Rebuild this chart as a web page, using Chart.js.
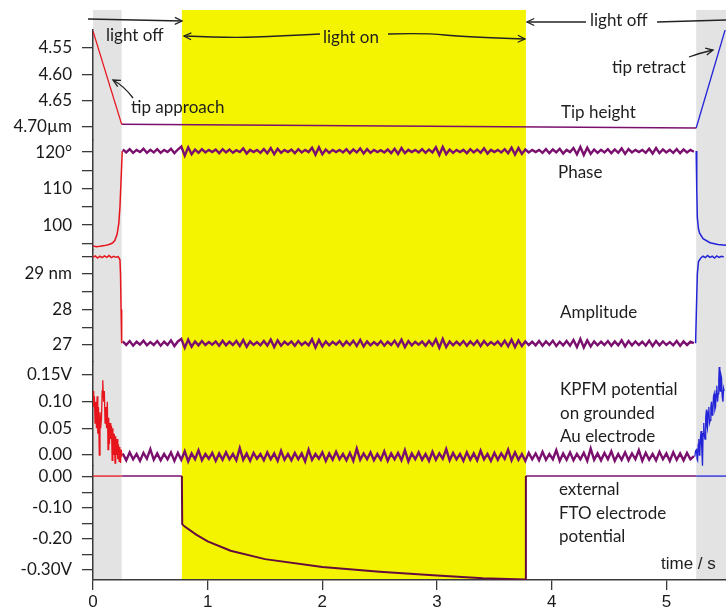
<!DOCTYPE html>
<html>
<head>
<meta charset="utf-8">
<script src="https://cdn.jsdelivr.net/npm/chart.js@4.4.1/dist/chart.umd.min.js"></script>
<style>
  html, body { margin: 0; padding: 0; background: #fff; }
  canvas { display: block; }
</style>
</head>
<body>
<canvas id="chart" width="726" height="611"></canvas>
<script>
// time bands (s)
const grayBands = [[0, 0.25], [5.26, 5.52]];
const lightOn = [0.775, 3.775];
const xTicks = [0, 1, 2, 3, 4, 5];

// sample times of the purple traces
const noiseT0 = 0.26;
const noiseDt = 0.03;

// tip height (µm)
const tipTicks = [4.55, 4.60, 4.65, 4.70];
const tipLabels = ['4.55', '4.60', '4.65', '4.70µm'];
const tipStartT = [0, 0.25];
const tipStartV = [4.518, 4.695];
const tipHoldT = [0.25, 5.26];
const tipHoldV = [4.695, 4.702];
const tipEndT = [5.26, 5.52];
const tipEndV = [4.702, 4.51];

// phase (deg)
const phaseTicks = [120, 115, 110, 105, 100, 95];
const phaseLabels = ['120°', '', '110', '', '100', ''];
const phaseStartT = [0, 0.03, 0.06, 0.10, 0.14, 0.17, 0.19, 0.21, 0.225, 0.235, 0.245, 0.255];
const phaseStartV = [94.3, 94.1, 94.2, 94.4, 94.7, 95.1, 95.8, 97.5, 100.5, 105, 112.5, 120.3];
const phaseEndT = [5.26, 5.265, 5.27, 5.28, 5.29, 5.32, 5.38, 5.45, 5.52];
const phaseEndV = [120.3, 110, 102, 99, 97.8, 96.3, 95.2, 94.7, 94.5];
const phaseNoise = [
  120.7,119.9,120.8,119.8,120.6,120.0,120.9,119.8,120.6,119.9,
  120.8,119.8,120.6,120.0,120.9,119.7,120.7,121.5,119.0,121.3,
  119.4,120.7,119.8,120.8,119.9,120.6,120.0,120.7,119.7,120.8,
  119.9,120.7,119.8,120.5,120.0,121.0,119.6,120.6,120.0,120.6,
  119.8,120.8,119.7,121.1,119.4,120.9,119.8,120.6,120.0,120.7,
  119.7,120.8,119.9,120.6,120.0,121.2,119.3,121.3,119.4,120.7,
  119.8,120.6,120.0,120.6,119.9,120.8,119.7,120.7,119.9,121.0,
  119.6,120.8,119.8,120.6,120.0,120.5,119.9,120.7,119.7,120.9,
  119.5,121.1,119.7,120.6,120.0,120.6,119.9,120.8,119.8,120.7,
  119.9,121.3,119.2,121.4,119.4,120.7,119.8,120.6,120.0,120.6,
  119.7,120.8,119.9,120.7,119.8,121.0,119.6,120.6,120.0,120.6,
  119.9,120.8,119.7,121.2,119.3,121.1,119.5,120.7,119.9,120.6,
  120.0,120.6,119.8,120.8,119.7,120.7,119.9,120.9,119.6,120.6,
  120.0,121.1,119.4,121.4,119.2,121.2,119.5,120.7,119.8,120.6,
  119.9,120.8,119.7,120.7,119.8,121.0,119.5,120.8,119.9,120.6,
  120.0,120.6,119.8,120.9,119.6,121.1,119.7,120.7,119.9,120.6,
  119.8,120.8,119.7,120.7,119.9,120.6,120.1
];

// amplitude (nm)
const ampTicks = [29.5, 29, 28.5, 28, 27.5, 27];
const ampLabels = ['', '29 nm', '', '28', '', '27'];
const ampStartT = [0, 0.02, 0.04, 0.06, 0.08, 0.10, 0.12, 0.14, 0.16, 0.18, 0.20, 0.22, 0.235, 0.24, 0.245, 0.25];
const ampStartV = [29.47, 29.51, 29.45, 29.5, 29.46, 29.51, 29.47, 29.52, 29.46, 29.5, 29.47, 29.49, 29.4, 29.0, 28.0, 27.05];
const ampEndT = [5.255, 5.262, 5.27, 5.28, 5.30, 5.32, 5.34, 5.36, 5.38, 5.40, 5.42, 5.44, 5.46, 5.48, 5.50];
const ampEndV = [27.05, 28.0, 29.0, 29.35, 29.45, 29.5, 29.46, 29.52, 29.47, 29.5, 29.45, 29.51, 29.47, 29.5, 29.48];
const ampNoise = [
  27.10,27.00,27.11,26.98,27.09,27.01,27.12,26.99,27.08,27.00,
  27.11,26.98,27.09,27.00,27.13,26.97,27.10,27.17,26.92,27.15,
  26.95,27.10,26.99,27.11,27.00,27.08,27.01,27.10,26.98,27.12,
  26.99,27.09,27.00,27.11,26.97,27.14,26.95,27.10,27.00,27.08,
  26.99,27.11,26.98,27.15,26.94,27.13,26.98,27.09,27.01,27.10,
  26.98,27.11,27.00,27.08,26.99,27.16,26.93,27.14,26.96,27.10,
  26.99,27.09,27.01,27.11,26.98,27.10,27.00,27.12,26.97,27.14,
  26.96,27.10,26.99,27.08,27.00,27.11,26.98,27.09,27.00,27.12,
  26.97,27.15,26.94,27.11,26.99,27.09,27.01,27.10,26.98,27.11,
  26.99,27.16,26.92,27.17,26.94,27.10,26.99,27.09,27.00,27.11,
  26.98,27.10,27.00,27.12,26.97,27.11,26.99,27.08,27.01,27.10,
  26.98,27.12,26.96,27.15,26.94,27.13,26.97,27.10,27.00,27.09,
  26.99,27.11,26.98,27.10,27.00,27.12,26.97,27.09,26.99,27.11,
  26.98,27.14,26.94,27.17,26.93,27.13,26.96,27.10,26.99,27.09,
  27.00,27.11,26.98,27.10,26.99,27.13,26.96,27.11,26.99,27.10,
  27.00,27.09,26.98,27.12,26.97,27.11,26.99,27.10,27.00,27.08,
  26.99,27.11,26.98,27.10,27.00,27.09,27.05
];

// KPFM potential on Au (V)
const kpfmTicks = [0.15, 0.10, 0.05, 0.00];
const kpfmLabels = ['0.15V', '0.10', '0.05', '0.00'];
const kpfmStartT = [0, 0.006, 0.012, 0.018, 0.024, 0.03, 0.036, 0.042, 0.048, 0.055, 0.061, 0.067, 0.074,
  0.08, 0.085, 0.092, 0.099, 0.105, 0.112, 0.118, 0.125, 0.131, 0.137, 0.143, 0.149, 0.155, 0.161,
  0.167, 0.173, 0.179, 0.186, 0.192, 0.198, 0.204, 0.21, 0.216, 0.222, 0.228, 0.234, 0.24, 0.246, 0.253];
const kpfmStartV = [0.12, 0.09, 0.11, 0.06, 0.10, 0.05, 0.11, 0.04, 0.09, 0.0, 0.08, 0.05, 0.07,
  0.12, 0.14, 0.10, 0.12, 0.06, 0.09, 0.05, 0.10, 0.01, 0.07, 0.02, 0.06, 0.03, 0.055,
  -0.01, 0.05, 0.0, 0.04, -0.015, 0.035, 0.0, 0.03, -0.008, 0.02, -0.012, 0.015, -0.015, 0.01, -0.003];
const kpfmEndT = [5.248, 5.255, 5.263, 5.268, 5.272, 5.278, 5.283, 5.288, 5.292, 5.298, 5.303, 5.309, 5.315,
  5.32, 5.326, 5.332, 5.337, 5.343, 5.35, 5.354, 5.358, 5.364, 5.37, 5.376, 5.382, 5.388, 5.394,
  5.4, 5.405, 5.411, 5.417, 5.423, 5.429, 5.435, 5.44, 5.446, 5.452, 5.457, 5.461, 5.466, 5.47,
  5.476, 5.481, 5.487, 5.493, 5.499, 5.504];
const kpfmEndV = [-0.003, 0.008, 0.01, -0.008, -0.01, 0.02, 0.03, 0.0, 0.005, 0.035, 0.045, 0.01, -0.02,
  0.04, 0.06, 0.035, 0.03, 0.07, 0.085, 0.055, 0.05, 0.08, 0.09, 0.06, 0.065, 0.09, 0.10,
  0.075, 0.08, 0.11, 0.115, 0.085, 0.09, 0.12, 0.13, 0.10, 0.115, 0.14, 0.165, 0.13, 0.12,
  0.15, 0.145, 0.11, 0.10, 0.125, 0.12];
const kpfmNoise = [
  0.003,-0.010,0.005,-0.008,0.002,-0.011,0.004,-0.007,0.011,-0.009,
  0.003,-0.010,0.002,-0.008,0.005,-0.011,0.004,-0.009,0.007,-0.012,
  0.003,-0.008,0.009,-0.010,0.002,-0.007,0.004,-0.011,0.003,-0.009,
  0.005,-0.008,0.002,-0.010,0.013,-0.009,0.003,-0.011,0.004,-0.007,
  0.002,-0.010,0.005,-0.008,0.003,-0.011,0.008,-0.009,0.002,-0.010,
  0.004,-0.008,0.003,-0.012,0.010,-0.009,0.002,-0.007,0.005,-0.011,
  0.003,-0.009,0.006,-0.008,0.002,-0.010,0.004,-0.011,0.012,-0.009,
  0.003,-0.008,0.005,-0.010,0.002,-0.009,0.007,-0.011,0.003,-0.008,
  0.004,-0.010,0.009,-0.012,0.003,-0.008,0.005,-0.009,0.002,-0.011,
  0.006,-0.009,0.003,-0.007,0.011,-0.010,0.004,-0.008,0.002,-0.011,
  0.005,-0.009,0.003,-0.010,0.008,-0.008,0.002,-0.011,0.004,-0.009,
  0.003,-0.007,0.010,-0.010,0.005,-0.009,0.002,-0.011,0.004,-0.008,
  0.003,-0.010,0.006,-0.009,0.002,-0.008,0.009,-0.011,0.003,-0.009,
  0.005,-0.010,0.002,-0.008,0.004,-0.011,0.012,-0.009,0.003,-0.010,
  0.004,-0.008,0.007,-0.011,0.002,-0.009,0.005,-0.010,0.003,-0.008,
  0.009,-0.011,0.004,-0.009,0.002,-0.010,0.006,-0.008,0.003,-0.011,
  0.005,-0.009,0.003,-0.010,0.004,-0.008,-0.002
];

// external FTO electrode potential (V)
const ftoTicks = [0, -0.05, -0.10, -0.15, -0.20, -0.25, -0.30];
const ftoLabels = ['0.00', '', '-0.10', '', '-0.20', '', '-0.30V'];
const ftoStartT = [0, 0.25];
const ftoStartV = [0.003, 0.003];
const ftoDarkT = [0.25, 0.775];
const ftoDarkV = [0.003, 0.003];
const ftoLightT = [0.775, 0.778, 0.8, 0.9, 1.0, 1.2, 1.5, 2.0, 2.5, 3.0, 3.4, 3.77, 3.775];
const ftoLightV = [0.003, -0.152, -0.16, -0.186, -0.208, -0.238, -0.265, -0.29, -0.306, -0.318, -0.327, -0.331, 0.003];
const ftoAfterT = [3.775, 5.26];
const ftoAfterV = [0.003, 0.003];
const ftoEndT = [5.26, 5.52];
const ftoEndV = [0.003, 0.003];

const RED = '#e8141c';
const BLUE = '#2323d8';
const PURPLE = '#7a0f6e';
const DARK = '#640c3c';
const AXIS = '#3a3a3a';

function pts(ts, vs) {
  return ts.map((t, i) => ({ x: t, y: vs[i] }));
}
function noisePts(vs) {
  return vs.map((v, i) => ({ x: noiseT0 + i * noiseDt, y: v }));
}
function line(data, color, axis, width) {
  return {
    data: data, borderColor: color, borderWidth: width || 1.3,
    xAxisID: 'x', yAxisID: axis, pointRadius: 0, tension: 0, fill: false
  };
}

function yAxis(min, max, ticks, labels, weight, stackWeight, reverse) {
  return {
    type: 'linear', position: 'left', stack: 'panels', stackWeight: stackWeight, weight: weight,
    min: min, max: max, reverse: !!reverse,
    afterBuildTicks: s => { s.ticks = ticks.map(v => ({ value: v })); },
    afterFit: s => { s.width = 93; },
    grid: { drawOnChartArea: false, drawTicks: true, tickLength: 11, color: AXIS, lineWidth: 1.3 },
    border: { display: true, color: AXIS, width: 1.5 },
    ticks: {
      padding: 10, color: '#1a1a1a', autoSkip: false,
      font: { family: 'Lato', size: 17 },
      callback: (v, i) => labels[i]
    }
  };
}

// gray / yellow background bands
const bands = {
  id: 'bands',
  beforeDraw(chart) {
    const c = chart.ctx, x = chart.scales.x, a = chart.chartArea;
    const top = 10;
    c.save();
    c.fillStyle = '#e3e3e3';
    grayBands.forEach(b => {
      const x0 = x.getPixelForValue(b[0]), x1 = Math.min(x.getPixelForValue(b[1]), a.right);
      c.fillRect(x0, top, x1 - x0, a.bottom - top);
    });
    c.fillStyle = '#f4f400';
    const y0 = x.getPixelForValue(lightOn[0]), y1 = x.getPixelForValue(lightOn[1]);
    c.fillRect(y0, top, y1 - y0, a.bottom - top);
    c.restore();
  }
};

const notes = [
  ['light off', 106, 36],
  ['light on', 323, 38],
  ['light off', 590, 21],
  ['tip approach', 131, 108],
  ['tip retract', 612, 68],
  ['Tip height', 561, 113],
  ['Phase', 558, 173],
  ['Amplitude', 560, 313],
  ['KPFM potential', 560, 390],
  ['on grounded', 560, 414],
  ['Au electrode', 560, 437],
  ['external', 559, 490],
  ['FTO electrode', 559, 514],
  ['potential', 559, 537]
];
const arrows = [
  { p: [[88, 19], [182, 21]], head: true },
  { p: [[320, 34], [280, 36], [230, 38], [184, 36]], head: true },
  { p: [[388, 34], [425, 33], [465, 37], [525, 39]], head: true },
  { p: [[586, 22], [527, 22]], head: true },
  { p: [[657, 22], [726, 20]], head: false },
  { p: [[133, 98], [124, 86], [113, 80]], head: true },
  { p: [[689, 57], [700, 53], [713, 50]], head: true }
];

const annotate = {
  id: 'annotate',
  afterDraw(chart) {
    const c = chart.ctx;
    c.save();
    c.fillStyle = '#1e1e1e';
    c.textBaseline = 'middle';
    c.textAlign = 'left';
    c.font = '17px Lato';
    notes.forEach(n => c.fillText(n[0], n[1], n[2]));
    c.font = '17px "Liberation Sans"';
    c.fillText('time / s', 661, 564);

    c.strokeStyle = '#222';
    c.lineWidth = 1.3;
    arrows.forEach(a => {
      const p = a.p;
      c.beginPath();
      c.moveTo(p[0][0], p[0][1]);
      if (p.length === 2) {
        c.lineTo(p[1][0], p[1][1]);
      } else {
        for (let i = 1; i < p.length - 1; i++) {
          const last = i === p.length - 2;
          const mx = last ? p[i + 1][0] : (p[i][0] + p[i + 1][0]) / 2;
          const my = last ? p[i + 1][1] : (p[i][1] + p[i + 1][1]) / 2;
          c.quadraticCurveTo(p[i][0], p[i][1], mx, my);
        }
      }
      c.stroke();
      if (a.head) {
        const e = p[p.length - 1], s = p[p.length - 2];
        const ang = Math.atan2(e[1] - s[1], e[0] - s[0]);
        c.beginPath();
        c.moveTo(e[0] - 8 * Math.cos(ang - 0.45), e[1] - 8 * Math.sin(ang - 0.45));
        c.lineTo(e[0], e[1]);
        c.lineTo(e[0] - 8 * Math.cos(ang + 0.45), e[1] - 8 * Math.sin(ang + 0.45));
        c.stroke();
      }
    });
    c.restore();
  }
};

new Chart(document.getElementById('chart'), {
  type: 'line',
  data: {
    datasets: [
      line(pts(tipStartT, tipStartV), RED, 'tip', 1.3),
      line(pts(tipHoldT, tipHoldV), PURPLE, 'tip', 1.5),
      line(pts(tipEndT, tipEndV), BLUE, 'tip', 1.3),
      line(pts(phaseStartT, phaseStartV), RED, 'phase', 1.5),
      line(noisePts(phaseNoise), PURPLE, 'phase', 2.4),
      line(pts(phaseEndT, phaseEndV), BLUE, 'phase', 1.5),
      line(pts(ampStartT, ampStartV), RED, 'amp', 1.5),
      line(noisePts(ampNoise), PURPLE, 'amp', 2.4),
      line(pts(ampEndT, ampEndV), BLUE, 'amp', 1.5),
      line(pts(kpfmStartT, kpfmStartV), RED, 'kpfm', 1.3),
      line(noisePts(kpfmNoise), PURPLE, 'kpfm', 2.4),
      line(pts(kpfmEndT, kpfmEndV), BLUE, 'kpfm', 1.3),
      line(pts(ftoStartT, ftoStartV), RED, 'fto', 1.3),
      line(pts(ftoDarkT, ftoDarkV), PURPLE, 'fto', 1.4),
      line(pts(ftoLightT, ftoLightV), DARK, 'fto', 2),
      line(pts(ftoAfterT, ftoAfterV), PURPLE, 'fto', 1.4),
      line(pts(ftoEndT, ftoEndV), BLUE, 'fto', 1.3)
    ]
  },
  options: {
    responsive: false,
    animation: false,
    layout: { padding: { top: 30, left: 0, right: 0, bottom: 0 } },
    plugins: { legend: { display: false }, tooltip: { enabled: false } },
    scales: {
      x: {
        type: 'linear', position: 'bottom', min: 0, max: 5.52,
        afterBuildTicks: s => { s.ticks = xTicks.map(v => ({ value: v })); },
        afterFit: s => { s.height = 31; },
        grid: { drawOnChartArea: false, drawTicks: true, tickLength: 10, color: AXIS, lineWidth: 1.3 },
        border: { display: true, color: AXIS, width: 1.5 },
        ticks: {
          padding: 2, color: '#1a1a1a', autoSkip: false, maxRotation: 0,
          font: { family: 'Liberation Sans', size: 17 },
          callback: (v, i) => String(xTicks[i])
        }
      },
      tip: yAxis(4.5158, 4.7247, tipTicks, tipLabels, 5, 110, true),
      phase: yAxis(93.2, 123.3, phaseTicks, phaseLabels, 4, 110),
      amp: yAxis(26.52, 29.676, ampTicks, ampLabels, 3, 112),
      kpfm: yAxis(-0.0206, 0.1744, kpfmTicks, kpfmLabels, 2, 104),
      fto: yAxis(-0.3323, 0.0355, ftoTicks, ftoLabels, 1, 114)
    }
  },
  plugins: [bands, annotate]
});
</script>
</body>
</html>
